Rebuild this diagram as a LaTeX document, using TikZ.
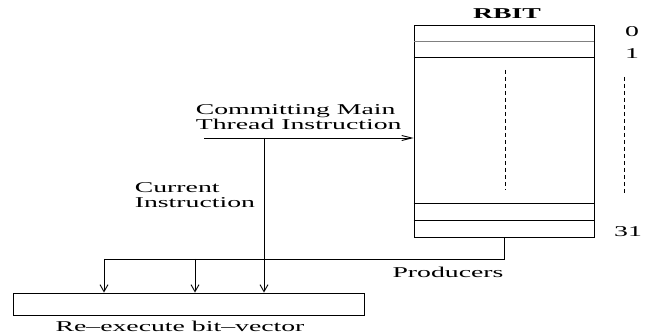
\documentclass[tikz,border=0pt]{standalone}
\usepackage{fontspec}
\setmainfont{Liberation Serif}
\usetikzlibrary{arrows.meta}
\begin{document}
\begin{tikzpicture}[x=1pt,y=-1pt,line width=0.9pt,line join=miter,
	>={Straight Barb[length=7pt,width=8pt]},
	font=\fontsize{15}{15}\selectfont,
	lbl/.style={inner sep=0pt,xscale=1.85},
	box/.style={draw,inner sep=0pt}]
	\useasboundingbox (0,0) rectangle (646,336);
	% register bits
	\node[box,minimum width=180pt,minimum height=212pt] (rbit) at (504,131) {};
	\draw[gray] ([yshift=-17pt]rbit.north west) -- ([yshift=-17pt]rbit.north east);
	\draw ([yshift=-33pt]rbit.north west) -- ([yshift=-33pt]rbit.north east);
	\draw ([yshift=34pt]rbit.south west) -- ([yshift=34pt]rbit.south east);
	\draw ([yshift=17pt]rbit.south west) -- ([yshift=17pt]rbit.south east);
	\draw[dash pattern=on 4pt off 3pt] (505,70) -- (505,190);
	\draw[dash pattern=on 4pt off 3pt] (624,77) -- (624,195);
	\node[lbl,anchor=base] (title) at (507,19) {\bfseries RBIT};
	\node[lbl,anchor=base] (bit0) at (632,37) {0};
	\node[lbl,anchor=base] (bit1) at (632,59) {1};
	\node[lbl,anchor=base] (bit31) at (628,237) {31};
	% re-execute vector
	\node[box,minimum width=351pt,minimum height=22pt] (rvec) at (188.5,304) {};
	\node[lbl,anchor=base] (rvectxt) at (180,332) {Re--execute bit--vector};
	% committing instruction
	\coordinate (cmt) at (204,138);
	\coordinate (tap) at (264,138);
	\draw[->,>={Straight Barb[length=10pt,width=5pt]}] (cmt) -- (cmt -| rbit.west);
	\draw[->] (tap) -- (tap |- rvec.north);
	\node[lbl,anchor=base west] (cmta) at (195,115) {Committing Main};
	\node[lbl,anchor=base west] (cmtb) at (195,130) {Thread Instruction};
	\node[lbl,anchor=base west] (cura) at (134,193) {Current};
	\node[lbl,anchor=base west] (curb) at (134,208) {Instruction};
	% producers
	\coordinate (bus) at (104,259);
	\coordinate (busmid) at (195,259);
	\draw (rbit.south) |- (bus);
	\draw[->] (bus) -- (bus |- rvec.north);
	\draw[->] (busmid) -- (busmid |- rvec.north);
	\node[lbl,anchor=base] (prod) at (448,278) {Producers};
\end{tikzpicture}
\end{document}
